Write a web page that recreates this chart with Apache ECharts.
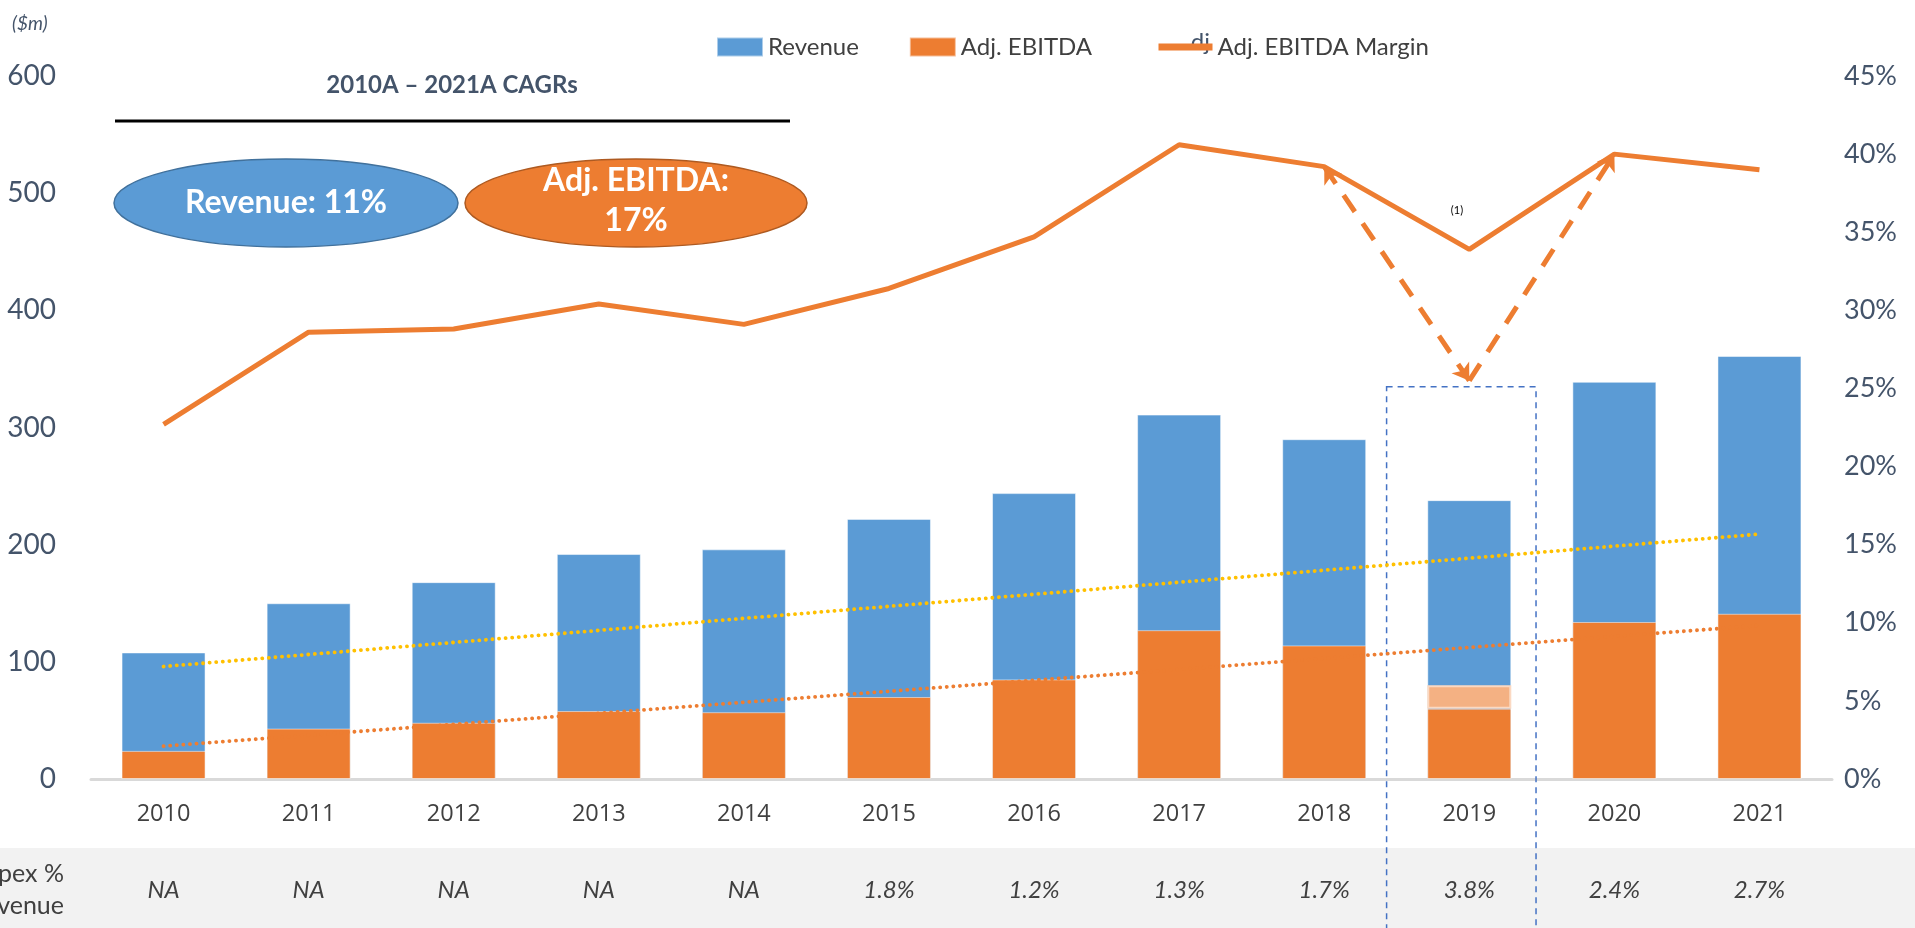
<!DOCTYPE html>
<html>
<head>
<meta charset="utf-8">
<script src="https://cdn.jsdelivr.net/npm/echarts@6/dist/echarts.min.js"></script>
<style>
  html, body { margin: 0; padding: 0; background: #fff; }
  #chart { width: 1915px; height: 928px; }
</style>
</head>
<body>
<div id="chart"></div>
<script>
// chart data ($m and %)
const years = ["2010", "2011", "2012", "2013", "2014", "2015", "2016", "2017", "2018", "2019", "2020", "2021"];
const revenue = [108, 150, 168, 192, 196, 222, 244, 311, 290, 238, 339, 361];
const ebitda = [24, 43, 48, 58, 57, 70, 85, 127, 114, 60, 134, 141];
// lighter add-back on top of 2019 EBITDA
const ebitdaAdj = [null, null, null, null, null, null, null, null, null, 20, null, null];
const margin = [22.7, 28.6, 28.8, 30.4, 29.1, 31.4, 34.7, 40.6, 39.2, 33.9, 40.0, 39.0];
// unadjusted 2019 margin (dashed dip)
const marginDip = [null, null, null, null, null, null, null, null, 39.2, 25.5, 40.0, null];
// dotted trendlines, endpoints only
const revenueTrend = [96, null, null, null, null, null, null, null, null, null, null, 209];
const ebitdaTrend = [28, null, null, null, null, null, null, null, null, null, null, 131];
const capex = ["NA", "NA", "NA", "NA", "NA", "1.8%", "1.2%", "1.3%", "1.7%", "3.8%", "2.4%", "2.7%"];
const leftTicks = { min: 0, max: 600, interval: 100 };
const rightTicks = { min: 0, max: 45, interval: 5 };

const BLUE = "#5b9bd5";
const ORANGE = "#ed7d31";
const LIGHT_ORANGE = "#f4b183";
const SLATE = "#44546a";
const FONT = "Lato, 'Open Sans', sans-serif";

const myChart = echarts.init(document.getElementById("chart"));

const legendText = { fontSize: 24, color: "#404040", fontFamily: FONT };

const option = {
  animation: false,
  textStyle: { fontFamily: FONT },
  grid: { left: 91, right: 83, top: 76, bottom: 149 },
  legend: [
    {
      left: 711,
      top: 30,
      itemWidth: 46,
      itemHeight: 19,
      itemGap: 50,
      textStyle: legendText,
      data: [
        { name: "Revenue", icon: "rect" },
        { name: "Adj. EBITDA", icon: "rect" }
      ]
    },
    {
      left: 1150,
      top: 30,
      itemWidth: 54,
      itemHeight: 19,
      textStyle: legendText,
      data: [
        { name: "Adj. EBITDA Margin", itemStyle: { opacity: 0 }, lineStyle: { width: 7 } }
      ]
    }
  ],
  xAxis: [
    {
      type: "category",
      data: years,
      axisLine: { lineStyle: { color: "#d9d9d9", width: 3 } },
      axisTick: { show: false },
      axisLabel: { color: "#404040", fontSize: 23.5, margin: 23, fontFamily: "'Open Sans', sans-serif" }
    },
    {
      // capex % revenue row
      type: "category",
      data: capex,
      position: "bottom",
      offset: 91,
      axisLine: { show: false },
      axisTick: { show: false },
      axisLabel: { color: "#404040", fontSize: 24, fontStyle: "italic", margin: 8 }
    }
  ],
  yAxis: [
    {
      type: "value",
      min: leftTicks.min,
      max: leftTicks.max,
      interval: leftTicks.interval,
      splitLine: { show: false },
      axisLine: { show: false },
      axisTick: { show: false },
      axisLabel: { color: SLATE, fontSize: 28, margin: 35 }
    },
    {
      type: "value",
      min: rightTicks.min,
      max: rightTicks.max,
      interval: rightTicks.interval,
      splitLine: { show: false },
      axisLine: { show: false },
      axisTick: { show: false },
      axisLabel: { color: SLATE, fontSize: 27, margin: 12, formatter: "{value}%" }
    }
  ],
  series: [
    {
      name: "Revenue",
      type: "bar",
      data: revenue,
      barWidth: 84,
      barGap: "-100%",
      itemStyle: { color: BLUE, borderColor: "rgba(255,255,255,0.5)", borderWidth: 1 }
    },
    {
      name: "Adj. EBITDA",
      type: "bar",
      stack: "e",
      data: ebitda,
      barWidth: 84,
      barGap: "-100%",
      itemStyle: { color: ORANGE, borderColor: "rgba(255,255,255,0.5)", borderWidth: 1 }
    },
    {
      name: "EBITDA add-back",
      type: "bar",
      stack: "e",
      data: ebitdaAdj,
      barWidth: 84,
      barGap: "-100%",
      itemStyle: { color: LIGHT_ORANGE, borderColor: "#fbd9c2", borderWidth: 2 }
    },
    {
      name: "Revenue trend",
      type: "line",
      data: revenueTrend,
      connectNulls: true,
      symbol: "none",
      lineStyle: { color: "#ffc000", width: 3.8, type: [0.1, 6.5], cap: "round" }
    },
    {
      name: "EBITDA trend",
      type: "line",
      data: ebitdaTrend,
      connectNulls: true,
      symbol: "none",
      lineStyle: { color: ORANGE, width: 3.8, type: [0.1, 6.5], cap: "round" }
    },
    {
      name: "Adj. EBITDA Margin",
      type: "line",
      yAxisIndex: 1,
      data: margin,
      symbol: "none",
      itemStyle: { color: ORANGE },
      lineStyle: { color: ORANGE, width: 5 }
    },
    {
      name: "Margin dip",
      type: "line",
      yAxisIndex: 1,
      data: marginDip,
      symbol: "none",
      lineStyle: { opacity: 0 },
      markLine: {
        silent: true,
        symbolSize: 16,
        label: { show: false },
        lineStyle: { color: ORANGE, width: 5, type: [20, 14], opacity: 1 },
        data: [
          [
            { coord: [years[9], marginDip[9]], symbol: "arrow" },
            { coord: [years[8], marginDip[8]], symbol: "arrow" }
          ],
          [
            { coord: [years[9], marginDip[9]], symbol: "none" },
            { coord: [years[10], marginDip[10]], symbol: "arrow" }
          ]
        ]
      }
    }
  ],
  graphic: [
    { type: "rect", z: -10, shape: { x: 0, y: 848, width: 1915, height: 80 }, style: { fill: "#f2f2f2" } },
    { type: "text", left: 12, top: 14, style: { text: "($m)", fill: SLATE, font: "italic 19px " + FONT } },
    { type: "text", x: 452, y: 85, style: { text: "2010A – 2021A CAGRs", fill: SLATE, font: "bold 24px " + FONT, align: "center", verticalAlign: "middle" } },
    { type: "line", shape: { x1: 115, y1: 121, x2: 790, y2: 121 }, style: { stroke: "#000", lineWidth: 3 } },
    { type: "ellipse", shape: { cx: 286, cy: 203, rx: 172, ry: 44 }, style: { fill: BLUE, stroke: "#41719c", lineWidth: 1.5 } },
    { type: "text", x: 286, y: 203, style: { text: "Revenue: 11%", fill: "#fff", font: "bold 32px " + FONT, align: "center", verticalAlign: "middle" } },
    { type: "ellipse", shape: { cx: 636, cy: 203, rx: 171, ry: 44 }, style: { fill: ORANGE, stroke: "#ae5a21", lineWidth: 1.5 } },
    { type: "text", x: 636, y: 201, style: { text: "Adj. EBITDA:\n17%", fill: "#fff", font: "bold 32px " + FONT, align: "center", verticalAlign: "middle", lineHeight: 40 } },
    { type: "text", x: 1457, y: 210, style: { text: "(1)", fill: "#000", font: "11px " + FONT, align: "center", verticalAlign: "middle" } },
    { type: "text", z: -5, x: 1210, y: 30, style: { text: "dj", fill: SLATE, font: "24px " + FONT, align: "right", verticalAlign: "top" } },
    { type: "text", x: 64, y: 874, style: { text: "Capex %", fill: "#404040", font: "25px " + FONT, align: "right", verticalAlign: "middle" } },
    { type: "text", x: 64, y: 906, style: { text: "Revenue", fill: "#404040", font: "25px " + FONT, align: "right", verticalAlign: "middle" } }
  ]
};

myChart.setOption(option);

// dashed highlight box round the 2019 column, placed from the axes
const c19 = myChart.convertToPixel({ xAxisIndex: 0 }, years[9]);
const c20 = myChart.convertToPixel({ xAxisIndex: 0 }, years[10]);
const band = c20 - c19;
const boxTop = myChart.convertToPixel({ yAxisIndex: 1 }, marginDip[9]) + 6;
myChart.setOption({
  graphic: [
    {
      id: "box19",
      type: "rect",
      z: 1,
      shape: { x: c19 - band * 0.57, y: boxTop, width: band * 1.03, height: 928 - boxTop + 10 },
      style: { fill: "none", stroke: "#4472c4", lineWidth: 1.5, lineDash: [6, 5] }
    }
  ]
});
</script>
</body>
</html>
